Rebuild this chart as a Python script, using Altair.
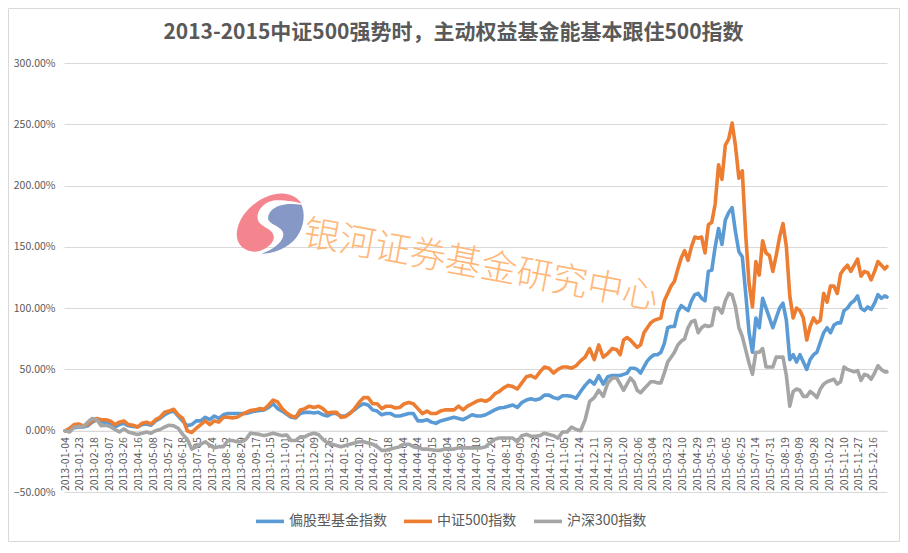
import altair as alt
import pandas as pd

FONT = "Noto Sans CJK SC"
TITLE = "2013-2015中证500强势时，主动权益基金能基本跟住500指数"
WATERMARK = "银河证券基金研究中心"
SERIES = ["偏股型基金指数", "中证500指数", "沪深300指数"]
COLORS = ["#5B9BD5", "#ED7D31", "#A5A5A5"]

tick_labels = [
    "2013-01-04", "2013-01-23", "2013-02-18", "2013-03-07", "2013-03-26", "2013-04-16", "2013-05-08",
    "2013-05-27", "2013-06-18", "2013-07-05", "2013-07-24", "2013-08-12", "2013-08-29", "2013-09-17",
    "2013-10-15", "2013-11-01", "2013-11-20", "2013-12-09", "2013-12-26", "2014-01-15", "2014-02-10",
    "2014-02-27", "2014-03-18", "2014-04-04", "2014-04-24", "2014-05-15", "2014-06-04", "2014-06-23",
    "2014-07-10", "2014-07-29", "2014-08-15", "2014-09-03", "2014-09-23", "2014-10-17", "2014-11-05",
    "2014-11-24", "2014-12-11", "2014-12-30", "2015-01-20", "2015-02-06", "2015-03-04", "2015-03-23",
    "2015-04-10", "2015-04-29", "2015-05-19", "2015-06-05", "2015-06-25", "2015-07-14", "2015-07-31",
    "2015-08-19", "2015-09-09", "2015-09-28", "2015-10-22", "2015-11-10", "2015-11-27", "2015-12-16",
]
tick_step = 13
tick_sessions = [i * tick_step for i in range(len(tick_labels))]
y_ticks = [-50, 0, 50, 100, 150, 200, 250, 300]

# trading-session index of each reading
sessions = list(range(0, 488, 4)) + list(range(488, 728, 3)) + [727]

fund = [
    0, 1, 2.5, 3, 3, 4, 7, 9, 7.5, 6.5,
    6, 3, 5, 6, 4, 3.5, 3, 5, 5.5, 4.5,
    8, 10, 13, 15, 16, 12, 8, 4, 5, 8,
    8, 11, 9, 12, 10, 13, 14, 14, 14, 14,
    14, 15, 16, 16.5, 17, 19, 22, 18, 16, 13.5,
    11, 10.5, 14, 15, 15, 14.5, 15, 13, 12, 14,
    14, 12, 12, 14.5, 17, 20, 22, 21, 17, 16,
    13, 14, 14, 12, 12, 13, 14, 14, 8, 8,
    9, 7, 6, 8, 9, 10, 11, 10, 9, 11,
    13, 12, 12, 13, 15, 17, 18.5, 19, 20, 21,
    19, 23, 25, 26, 25, 26, 29, 29, 27, 26,
    28.5, 28.5, 28, 26.5, 32, 37, 41, 38, 45, 38,
    44, 45,
    45, 45, 46, 47, 51, 51, 50, 47, 52, 57,
    60, 62, 62, 64, 71, 84, 85, 85, 97, 102,
    100, 98, 106, 111, 112, 108, 106, 130, 131, 150,
    165, 152, 172, 178, 182, 162, 146, 142, 112, 80,
    64, 92, 84, 108, 100, 92, 84, 92, 100, 104,
    90, 58, 62, 56, 62, 56, 50, 58, 62, 64,
    72, 80, 84, 80, 86, 88, 88, 98, 100, 104,
    106, 110, 100, 98, 101, 99, 104, 111, 108, 110, 109,
]
csi500 = [
    0, 2, 5, 5.5, 4, 5, 8, 10, 9, 9,
    8, 5, 7, 8, 5, 4.5, 3, 6, 7, 5.5,
    9, 11, 15, 16, 17.5, 13, 10, 0, -1.5, 2,
    5, 8, 5, 8, 7, 11, 11, 10.5, 11, 13,
    15, 16.5, 17, 18, 17.5, 21, 25, 23.5, 18, 14.5,
    12, 11, 17, 18, 20, 19, 20, 18, 14.5, 15,
    15, 11, 11.5, 14, 18, 23, 27, 27, 22, 22,
    18, 20, 20, 18.5, 19, 22, 23, 22, 18, 14,
    16, 14, 14, 16, 17, 17, 17, 20, 17, 20,
    22, 24, 25, 24, 26, 30, 32, 35, 37, 36,
    34, 39, 44, 45, 43, 48, 52, 51, 47, 50,
    52, 52, 51, 53, 57, 60, 67, 58, 70, 60,
    63, 67,
    66, 62, 74, 76, 74, 71, 68, 70, 80, 84,
    88, 90, 91, 92, 106, 112, 118, 122, 132, 141,
    147, 139, 150, 158, 157, 158, 145, 168, 170, 185,
    217, 205, 233, 238, 251, 232, 206, 212, 160, 120,
    101, 138, 127, 155, 145, 143, 130, 143, 158, 169,
    150, 110, 92, 100, 98, 92, 74, 85, 92, 88,
    90, 112, 105, 118, 118, 112, 128, 132, 135, 130,
    135, 140, 126, 130, 129, 123, 130, 138, 135, 132, 134,
]
csi300 = [
    0, -1, 3, 3.5, 3, 7, 10, 9, 4, 4.5,
    3.5, 1, -1, 1.5, -1, -2, -3, -2, -1, -2,
    0, 1, 3, 4.5, 4, 2, -3, -7, -15, -13,
    -11, -9, -12, -14, -13, -13, -8, -8, -9, -9,
    -7, -2, -2.5, -3, -4, -3, -2, -3, -4, -3.5,
    -8, -8, -5, -5, -3, -2, -3, -7, -10, -11,
    -12, -13, -12, -11, -10, -9, -9, -10, -11, -13,
    -16, -16, -15, -14, -13, -11, -11, -13, -14, -15,
    -15, -15.5, -16, -16, -15, -15, -15, -14, -14, -14,
    -14, -14, -14, -13, -10, -7, -6, -6, -6, -6,
    -9, -4, -3, -4.5, -4.5, -4, -2, -3, -4, -6,
    -1, -1, 3, 1, 0, 9, 24, 27, 33, 28,
    39, 43,
    43, 38, 33, 38, 43, 40, 33, 31, 34, 37,
    40, 40, 39, 39, 47, 56, 60, 64, 70, 73,
    75, 84, 89, 90, 80, 84, 86, 85, 86, 100,
    100, 96, 106, 112, 111, 101, 84, 77, 66, 55,
    46, 64, 64, 67, 52, 52, 52, 60, 60, 60,
    45, 20, 32, 34, 33, 28, 28, 32, 30, 27,
    34, 38, 40, 41, 42, 38, 40, 52, 50, 49,
    48, 49, 41, 46, 45, 42, 47, 53, 50, 48, 48,
]
assert len(sessions) == len(fund) == len(csi500) == len(csi300), (
    len(sessions), len(fund), len(csi500), len(csi300))

LOGO_PINK = ("M0.38,-0.84 C-0.1,-0.88 -0.9,-0.4 -0.95,0.3 C-0.97,0.7 -0.6,0.88 -0.3,0.8 "
             "C0,0.7 0.15,0.5 0.1,0.35 C0.05,0.15 -0.3,0.1 -0.35,-0.1 C-0.4,-0.4 -0.1,-0.65 0.2,-0.65 "
             "C0.5,-0.65 0.8,-0.6 0.9,-0.55 C0.8,-0.72 0.6,-0.82 0.38,-0.84 Z")
LOGO_BLUE = ("M0.9,-0.52 C1,-0.3 1,0.1 0.75,0.42 C0.5,0.72 0.1,0.88 -0.25,0.88 "
             "C0.05,0.78 0.4,0.55 0.38,0.3 C0.35,0.1 0,0.05 -0.05,-0.1 C-0.08,-0.4 0.3,-0.62 0.9,-0.52 Z")

rows = []
for name, vals in zip(SERIES, [fund, csi500, csi300]):
    for s, v in zip(sessions, vals):
        rows.append({"session": s, "value": v, "series": name})
df = pd.DataFrame(rows)

one = alt.Data(values=[{"a": 1}])
labels_js = "[" + ",".join(f"'{t}'" for t in tick_labels) + "]"

frame = alt.Chart(one).mark_rect(fillOpacity=0, stroke="#D9D9D9", strokeWidth=1).encode(
    x=alt.value(-55.5), x2=alt.value(835.5), y=alt.value(-54.5), y2=alt.value(478.5))

logo_pink = alt.Chart(one).mark_point(shape=LOGO_PINK, filled=True, size=4900, color="#F4858E", opacity=1).encode(
    x=alt.value(206), y=alt.value(160))
logo_blue = alt.Chart(one).mark_point(shape=LOGO_BLUE, filled=True, size=4900, color="#8598C6", opacity=1).encode(
    x=alt.value(206), y=alt.value(160))
watermark = alt.Chart(one).mark_text(
    text=WATERMARK, font=FONT, fontSize=36, fontWeight=300, color="#FFB87A", angle=10.5,
    align="center", baseline="middle").encode(x=alt.value(417), y=alt.value(203))

lines = alt.Chart(df).mark_line(strokeWidth=3.6, strokeJoin="round", strokeCap="round", interpolate="linear").encode(
    x=alt.X("session:Q",
            scale=alt.Scale(domain=[-1, 727], nice=False, zero=False),
            axis=alt.Axis(values=tick_sessions, title=None, labelAngle=270, labelAlign="right",
                          labelBaseline="middle", labelExpr=f"{labels_js}[round(datum.value/{tick_step})]",
                          labelOverlap=False, labelFlush=False, labelFontSize=10.5, labelColor="#595959",
                          labelFont=FONT, labelPadding=6, ticks=False, grid=False, offset=-61.3,
                          domainColor="#D9D9D9", domainWidth=1, labelBound=False)),
    y=alt.Y("value:Q",
            scale=alt.Scale(domain=[-50, 300], nice=False, zero=False),
            axis=alt.Axis(values=y_ticks, title=None, labelExpr="format(datum.value,'.2f')+'%'",
                          labelFontSize=10.5, labelColor="#595959", labelFont=FONT, labelPadding=9,
                          ticks=False, domain=False, grid=True, gridColor="#D9D9D9", gridWidth=1)),
    color=alt.Color("series:N",
                    scale=alt.Scale(domain=SERIES, range=COLORS),
                    sort=SERIES,
                    legend=alt.Legend(title=None, orient="none", legendX=190, legendY=442, direction="horizontal",
                                      columns=3, symbolType="stroke", symbolSize=784, symbolStrokeWidth=3.6,
                                      labelFont=FONT, labelFontSize=14, labelColor="#595959", labelOffset=3,
                                      columnPadding=9, padding=0)),
)

chart = alt.layer(frame, logo_pink, logo_blue, watermark, lines).properties(
    width=823,
    height=429,
    padding={"left": 56, "top": 55, "right": 13, "bottom": 50},
    autosize=alt.AutoSizeParams(type="none"),
    title=alt.TitleParams(TITLE, font=FONT, fontSize=21, fontWeight="bold", color="#595959",
                          anchor="middle", frame="group", dx=-22, offset=-35),
).configure_view(stroke=None)

chart.save("out.html", embed_options={"renderer": "svg", "actions": False})
